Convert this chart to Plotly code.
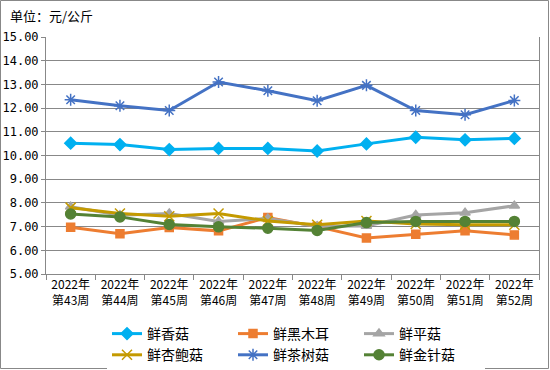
import plotly.graph_objects as go

weeks = ["2022年<br>第43周", "2022年<br>第44周", "2022年<br>第45周", "2022年<br>第46周", "2022年<br>第47周",
         "2022年<br>第48周", "2022年<br>第49周", "2022年<br>第50周", "2022年<br>第51周", "2022年<br>第52周"]

xianggu = [10.52, 10.46, 10.25, 10.30, 10.30, 10.19, 10.49, 10.77, 10.66, 10.72]
heimuer = [6.97, 6.70, 6.96, 6.82, 7.38, 7.00, 6.52, 6.68, 6.82, 6.65]
pinggu = [7.84, 7.48, 7.55, 7.22, 7.34, 7.02, 7.03, 7.49, 7.58, 7.88]
xingbaogu = [7.80, 7.55, 7.44, 7.55, 7.24, 7.08, 7.24, 7.11, 7.08, 7.08]
chashugu = [12.35, 12.10, 11.90, 13.10, 12.73, 12.31, 12.96, 11.90, 11.72, 12.32]
jinzhengu = [7.53, 7.41, 7.09, 6.99, 6.93, 6.84, 7.17, 7.22, 7.22, 7.22]

series = [
    ("鲜香菇", xianggu, "#00B0F0", "diamond", 9),
    ("鲜黑木耳", heimuer, "#ED7D31", "square", 8),
    ("鲜平菇", pinggu, "#A5A5A5", "triangle-up", 9),
    ("鲜杏鲍菇", xingbaogu, "#C49A00", "x-thin-open", 10),
    ("鲜茶树菇", chashugu, "#4472C4", "asterisk-open", 10),
    ("鲜金针菇", jinzhengu, "#548235", "circle", 10),
]

fig = go.Figure()
for name, vals, color, sym, size in series:
    fig.add_trace(go.Scatter(
        x=weeks, y=vals, name=name, mode="lines+markers",
        line=dict(color=color, width=3),
        marker=dict(symbol=sym, size=size, color=color,
                    line=dict(color=color, width=1.5)),
    ))

W, H = 550, 370
L, R, T, B = 46, 11, 37, 96
pw, ph = W - L - R, H - T - B

fig.update_layout(
    width=W, height=H,
    margin=dict(l=L, r=R, t=T, b=B, pad=0, autoexpand=False),
    paper_bgcolor="white", plot_bgcolor="white",
    font=dict(family="Noto Sans CJK SC", size=12, color="#000000"),
    showlegend=True,
    legend=dict(orientation="h", x=(W / 2 + 21) / W, xanchor="center", xref="container",
                y=(H - 318) / H, yanchor="top", yref="container",
                entrywidth=81, entrywidthmode="pixels",
                font=dict(size=14), itemwidth=30, tracegroupgap=0),
    annotations=[dict(text="单位：元/公斤", xref="paper", yref="paper",
                      x=-L / pw + 8 / pw, y=1 + (T - 15) / ph, xanchor="left", yanchor="middle",
                      showarrow=False, font=dict(size=13))],
    shapes=[dict(type="rect", xref="paper", yref="paper",
                 x0=-(L - 0.5) / pw, x1=1 + (R - 1.5) / pw,
                 y0=-(B - 1.5) / ph, y1=1 + (T - 0.5) / ph,
                 line=dict(color="#888888", width=1))],
)

fig.update_xaxes(type="category", showgrid=False, showline=True, linecolor="#888888", linewidth=1,
                 ticks="outside", tickson="boundaries", ticklen=5, tickcolor="#888888",
                 tickfont=dict(size=12), tickangle=0, range=[-0.5, 9.5], automargin=False)
fig.update_yaxes(range=[5, 15], dtick=1, tickformat=".2f", showgrid=True, gridcolor="#888888",
                 gridwidth=1, showline=True, mirror=True, linecolor="#888888", linewidth=1,
                 ticks="outside", ticklen=4, tickcolor="#888888", zeroline=False, automargin=False,
                 tickfont=dict(size=12, family="DejaVu Sans Mono"))

fig.write_html("out.html", config={"displayModeBar": False},
               post_script="document.body.style.margin='0';")
